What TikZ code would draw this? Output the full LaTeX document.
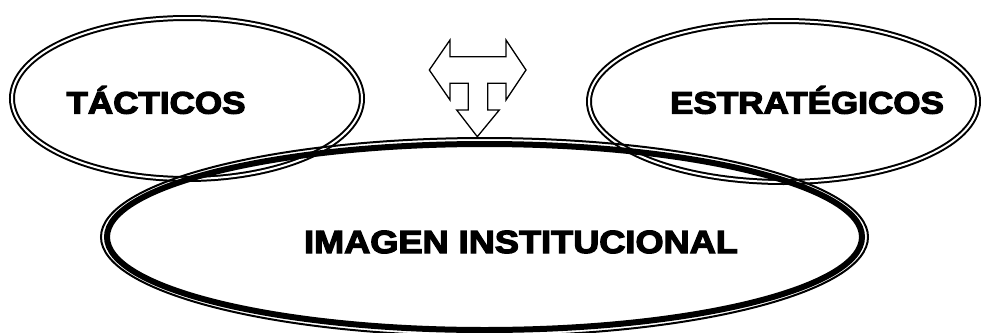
\documentclass[tikz,border=0pt]{standalone}
\usepackage{fontspec}
\newfontfamily\heavyfont[FakeBold=4,FakeStretch=1.13]{Liberation Sans Bold}
\usetikzlibrary{shapes.geometric,positioning}

\begin{document}
\begin{tikzpicture}[
  x=1pt, y=-1pt,
  ring/.style={draw, ellipse, double, line width=2pt, double distance=2pt, inner sep=0pt},
  bigring/.style={draw, ellipse, line width=6pt, inner sep=0pt},
  rim/.style={draw, ellipse, line width=2pt, inner sep=0pt},
  lbl/.style={font=\heavyfont\fontsize{31}{31}\selectfont, inner sep=0pt},
  biglbl/.style={font=\heavyfont\fontsize{32}{32}\selectfont, inner sep=0pt}
]
\useasboundingbox (0,0) rectangle (981,332);
\node[ring, minimum width=350pt, minimum height=161pt] (tacticosring) at (187,98.5) {};
\node[ring, minimum width=389pt, minimum height=161pt] (estrategicosring) at (783.5,101.5) {};
\node[bigring, minimum width=755pt, minimum height=186pt] (imagenring) at (484.5,237) {};
\node[rim, minimum width=767pt, minimum height=198pt] (imagenrim) at (imagenring.center) {};
\node[lbl] (tacticos) at (156,100) {TÁCTICOS};
\node[lbl] (estrategicos) at (807,100) {ESTRATÉGICOS};
\node[biglbl] (imagen) at (521,242) {IMAGEN INSTITUCIONAL};
% flecha de tres puntas
\draw[line width=1.3pt, fill=white, line join=miter]
  (429.3,70) -- (450,40) -- (450,56.7) -- (506,56.7) -- (506,40) -- (526,70)
  -- (506,100) -- (506,83.3) -- (487.7,83.3) -- (487.7,110) -- (499.3,110)
  -- (477.3,136.7) -- (456.7,110) -- (468.3,110) -- (468.3,83.3) -- (450,83.3)
  -- (450,100) -- cycle;
\end{tikzpicture}
\end{document}
